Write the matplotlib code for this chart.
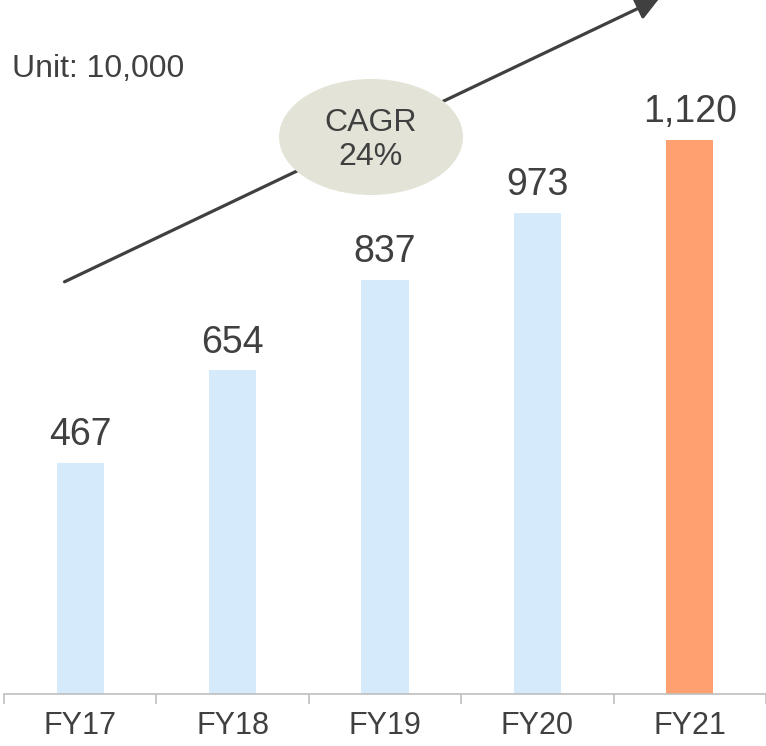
import matplotlib.pyplot as plt
from matplotlib.patches import Ellipse, FancyArrowPatch

plt.rcParams["font.family"] = ["Liberation Sans", "DejaVu Sans"]

years = ["FY17", "FY18", "FY19", "FY20", "FY21"]
units = [467, 654, 837, 973, 1120]
labels = ["467", "654", "837", "973", "1,120"]
colors = ["#d5ebfb", "#d5ebfb", "#d5ebfb", "#d5ebfb", "#ffa070"]
cagr_text = "CAGR\n24%"
unit_text = "Unit: 10,000"

fig = plt.figure(figsize=(7.66, 7.46), dpi=100)
ax = fig.add_axes([4 / 766, 52 / 746, 762 / 766, 694 / 746])

x = list(range(len(years)))
ax.bar(x, units, width=0.31, color=colors)
for i, v in enumerate(units):
    ax.text(i, v + 20, labels[i], ha="center", va="bottom", fontsize=27, color="#404040")

ax.set_xlim(-0.5, len(years) - 0.5)
ax.set_ylim(0, 1403)
ax.set_yticks([])
for s in ["top", "right", "left"]:
    ax.spines[s].set_visible(False)
ax.spines["bottom"].set_color("#bfbfbf")
ax.spines["bottom"].set_linewidth(1.2)

ax.set_xticks(x)
ax.set_xticklabels(years, fontsize=22, color="#404040")
ax.tick_params(axis="x", which="major", length=0, pad=12)
ax.set_xticks([i - 0.5 for i in range(len(years) + 1)], minor=True)
ax.tick_params(axis="x", which="minor", length=7, color="#bfbfbf", width=1.2)

# growth arrow across the top
fig.patches.append(FancyArrowPatch(
    (62 / 766, 1 - 283 / 746), (662 / 766, 1 + 3 / 746),
    transform=fig.transFigure, arrowstyle="-|>,head_length=14,head_width=7",
    color="#404040", lw=2.3, mutation_scale=1))

ell = Ellipse((371 / 766, 1 - 137 / 746), 184 / 766, 116 / 746,
              transform=fig.transFigure, facecolor="#e3e4d7", edgecolor="none")
fig.patches.append(ell)
fig.text(371 / 766, 1 - 140 / 746, cagr_text, ha="center", va="center",
         fontsize=23, color="#404040", linespacing=1.2)

fig.text(12 / 766, 1 - 69 / 746, unit_text, ha="left", va="center",
         fontsize=23, color="#404040")

fig.savefig("out.png", dpi=100)
